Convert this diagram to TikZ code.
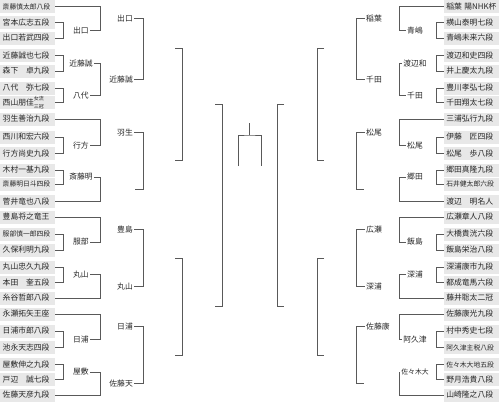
\documentclass[tikz,border=0pt]{standalone}
\usepackage{fontspec}
\setmainfont{Noto Sans CJK JP}
\newcommand{\nm}{\fontsize{7.8}{9}\selectfont}
\newcommand{\sm}{\fontsize{6.8}{8}\selectfont}
\newcommand{\twoline}[2]{\raisebox{-2.2pt}{\fontsize{5}{5}\selectfont\shortstack[l]{#1\\#2}}}

\begin{document}
\begin{tikzpicture}[
x=1pt, y=-1pt,
player/.style={
    fill=gray!18,
    text=black!85,
    minimum height=13pt,
    text width=50pt,
    inner xsep=2.5pt,
    inner ysep=0pt,
    align=left,
    font=\nm
},
lp/.style={player, anchor=west},
rp/.style={player, anchor=east},
small/.style={font=\sm},
win/.style={inner sep=1pt, text=black!85, font=\nm},
line/.style={draw=black!65, line width=0.9pt}
]
\useasboundingbox (0,0) rectangle (499,402);

% columns
\coordinate (c1) at (63,0);
\coordinate (c2) at (100,0);
\coordinate (c3) at (143,0);
\coordinate (c4) at (182,0);
\coordinate (c5) at (222,0);
\coordinate (d1) at (436,0);
\coordinate (d2) at (399,0);
\coordinate (d3) at (356,0);
\coordinate (d4) at (317,0);
\coordinate (d5) at (277,0);

% left players
\node[lp, small] (saito) at (0,6.5) {斎藤慎太郎八段};
\node[lp] (miyamoto) at (0,22.5) {宮本広志五段};
\node[lp] (deguchi) at (0,38) {出口若武四段};
\node[lp] (kondo) at (0,55.5) {近藤誠也七段};
\node[lp] (morishita) at (0,71) {森下　卓九段};
\node[lp] (yashiro) at (0,88) {八代　弥七段};
\node[lp] (nishiyama) at (0,102.5) {西山朋佳\twoline{女流}{三冠}};
\node[lp] (habu) at (0,119) {羽生善治九段};
\node[lp] (nishikawa) at (0,137) {西川和宏六段};
\node[lp] (namekata) at (0,153.5) {行方尚史九段};
\node[lp] (kimura) at (0,170) {木村一基九段};
\node[lp, small] (saitoa) at (0,184) {斎藤明日斗四段};
\node[lp] (sugai) at (0,201.5) {菅井竜也八段};
\node[lp] (toyoshima) at (0,217) {豊島将之竜王};
\node[lp, small] (hattori) at (0,234) {服部慎一郎四段};
\node[lp] (kubo) at (0,250) {久保利明九段};
\node[lp] (maruyama) at (0,267) {丸山忠久九段};
\node[lp] (honda) at (0,282.5) {本田　奎五段};
\node[lp] (itodani) at (0,298) {糸谷哲郎八段};
\node[lp] (nagase) at (0,314) {永瀬拓矢王座};
\node[lp] (hiura) at (0,331) {日浦市郎八段};
\node[lp] (ikenaga) at (0,347.5) {池永天志四段};
\node[lp] (yashiki) at (0,364.5) {屋敷伸之九段};
\node[lp] (tobe) at (0,379.5) {戸辺　誠七段};
\node[lp] (satoam) at (0,395) {佐藤天彦九段};

% right players
\node[rp] (inaba) at (499,6.5) {\mbox{稲葉\hspace{2.5pt}陽NHK杯}};
\node[rp] (yokoyama) at (499,22.5) {横山泰明七段};
\node[rp] (aoshima) at (499,38) {青嶋未来六段};
\node[rp] (watanabek) at (499,55.5) {渡辺和史四段};
\node[rp] (inoue) at (499,71) {井上慶太九段};
\node[rp] (toyokawa) at (499,88) {豊川孝弘七段};
\node[rp] (chida) at (499,102.5) {千田翔太七段};
\node[rp] (miura) at (499,119) {三浦弘行九段};
\node[rp] (ito) at (499,137) {伊藤　匠四段};
\node[rp] (matsuo) at (499,153.5) {松尾　歩八段};
\node[rp] (goda) at (499,170) {郷田真隆九段};
\node[rp, small] (ishii) at (499,184) {石井健太郎六段};
\node[rp] (watanabea) at (499,201.5) {渡辺　明名人};
\node[rp] (hirose) at (499,217) {広瀬章人八段};
\node[rp] (ohashi) at (499,234) {大橋貴洸六段};
\node[rp] (iijima) at (499,250) {飯島栄治八段};
\node[rp] (fukaura) at (499,267) {深浦康市九段};
\node[rp] (tonari) at (499,282.5) {都成竜馬六段};
\node[rp] (fujii) at (499,298) {藤井聡太二冠};
\node[rp] (satoy) at (499,314) {佐藤康光九段};
\node[rp] (muranaka) at (499,331) {村中秀史七段};
\node[rp, small] (akutsu) at (499,347.5) {阿久津主税八段};
\node[rp, small] (sasaki) at (499,364.5) {佐々木大地五段};
\node[rp] (nozuki) at (499,379.5) {野月浩貴八段};
\node[rp] (yamasaki) at (499,395) {山崎隆之八段};

% left winners
\node[win] (deguchi1) at (81,30.25) {出口};
\node[win] (kondo1) at (81,63.25) {近藤誠};
\node[win] (yashiro1) at (81,95.25) {八代};
\node[win] (namekata1) at (81,145.25) {行方};
\node[win] (saitoa1) at (81,177) {斎藤明};
\node[win] (hattori1) at (81,242) {服部};
\node[win] (maruyama1) at (81,274.75) {丸山};
\node[win] (hiura1) at (81,339.25) {日浦};
\node[win] (yashiki1) at (81,372) {屋敷};
\node[win, anchor=east] (deguchi2) at (134,18.4) {出口};
\node[win, anchor=east] (kondo2) at (134,79.25) {近藤誠};
\node[win, anchor=east] (habu2) at (134,132.1) {羽生};
\coordinate (sugai2) at (135,189.25);
\node[win, anchor=east] (toyoshima2) at (134,229.5) {豊島};
\node[win, anchor=east] (maruyama2) at (134,286.4) {丸山};
\node[win, anchor=east] (hiura2) at (134,326.6) {日浦};
\node[win, anchor=east] (satoam2) at (134,383.5) {佐藤天};

% right winners
\node[win] (aoshima1) at (415,30.25) {青嶋};
\node[win] (watanabek1) at (415,63.25) {渡辺和};
\node[win] (chida1) at (415,95.25) {千田};
\node[win] (matsuo1) at (415,145.25) {松尾};
\node[win] (goda1) at (415,177) {郷田};
\node[win] (iijima1) at (415,242) {飯島};
\node[win] (fukaura1) at (415,274.75) {深浦};
\node[win] (akutsu1) at (415,339.25) {阿久津};
\node[win, small] (sasaki1) at (415,372) {佐々木大};
\node[win, anchor=west] (inaba2) at (365,18.4) {稲葉};
\node[win, anchor=west] (chida2) at (365,79.25) {千田};
\node[win, anchor=west] (matsuo2) at (365,132.1) {松尾};
\coordinate (watanabea2) at (364,189.25);
\node[win, anchor=west] (hirose2) at (365,229.5) {広瀬};
\node[win, anchor=west] (fukaura2) at (365,286.4) {深浦};
\node[win, anchor=west] (satoy2) at (365,326.6) {佐藤康};
\coordinate (yamasaki2) at (364,383.5);

% later rounds
\coordinate (q1) at (175,48.8);
\coordinate (q2) at (175,160.7);
\coordinate (q3) at (175,257.95);
\coordinate (q4) at (175,355.05);
\coordinate (s1) at (215,104.75);
\coordinate (s2) at (215,306.5);
\coordinate (rq1) at (324,48.8);
\coordinate (rq2) at (324,160.7);
\coordinate (rq3) at (324,257.95);
\coordinate (rq4) at (324,355.05);
\coordinate (rs1) at (284,104.75);
\coordinate (rs2) at (284,306.5);
\coordinate (fl) at (238,166);
\coordinate (fr) at (261,166);
\coordinate (ftop) at (249.5,135);
\coordinate (fstem) at (249.5,123);

% left first round
\draw[line] (miyamoto.east) -| (c1 |- deguchi) -- (deguchi.east);
\draw[line] (kondo.east) -| (c1 |- morishita) -- (morishita.east);
\draw[line] (yashiro.east) -| (c1 |- nishiyama) -- (nishiyama.east);
\draw[line] (nishikawa.east) -| (c1 |- namekata) -- (namekata.east);
\draw[line] (kimura.east) -| (c1 |- saitoa) -- (saitoa.east);
\draw[line] (hattori.east) -| (c1 |- kubo) -- (kubo.east);
\draw[line] (maruyama.east) -| (c1 |- honda) -- (honda.east);
\draw[line] (hiura.east) -| (c1 |- ikenaga) -- (ikenaga.east);
\draw[line] (yashiki.east) -| (c1 |- tobe) -- (tobe.east);

% left second round
\draw[line] (saito.east) -| (c2 |- deguchi1) -- (deguchi1.east);
\draw[line] (kondo1.east) -| (c2 |- yashiro1) -- (yashiro1.east);
\draw[line] (habu.east) -| (c2 |- namekata1) -- (namekata1.east);
\draw[line] (saitoa1.east) -| (c2 |- sugai) -- (sugai.east);
\draw[line] (toyoshima.east) -| (c2 |- hattori1) -- (hattori1.east);
\draw[line] (maruyama1.east) -| (c2 |- itodani) -- (itodani.east);
\draw[line] (nagase.east) -| (c2 |- hiura1) -- (hiura1.east);
\draw[line] (yashiki1.east) -| (c2 |- satoam) -- (satoam.east);

% left third round and on
\draw[line] (deguchi2.east) -| (c3 |- kondo2) -- (kondo2.east);
\draw[line] (habu2.east) -| (c3 |- sugai2) -- (sugai2);
\draw[line] (toyoshima2.east) -| (c3 |- maruyama2) -- (maruyama2.east);
\draw[line] (hiura2.east) -| (c3 |- satoam2) -- (satoam2.east);
\draw[line] (q1) -| (c4 |- q2) -- (q2);
\draw[line] (q3) -| (c4 |- q4) -- (q4);
\draw[line] (s1) -| (c5 |- s2) -- (s2);

% right first round
\draw[line] (yokoyama.west) -| (d1 |- aoshima) -- (aoshima.west);
\draw[line] (watanabek.west) -| (d1 |- inoue) -- (inoue.west);
\draw[line] (toyokawa.west) -| (d1 |- chida) -- (chida.west);
\draw[line] (ito.west) -| (d1 |- matsuo) -- (matsuo.west);
\draw[line] (goda.west) -| (d1 |- ishii) -- (ishii.west);
\draw[line] (ohashi.west) -| (d1 |- iijima) -- (iijima.west);
\draw[line] (fukaura.west) -| (d1 |- tonari) -- (tonari.west);
\draw[line] (muranaka.west) -| (d1 |- akutsu) -- (akutsu.west);
\draw[line] (sasaki.west) -| (d1 |- nozuki) -- (nozuki.west);

% right second round
\draw[line] (inaba.west) -| (d2 |- aoshima1) -- (aoshima1.west);
\draw[line] (watanabek1.west) -| (d2 |- chida1) -- (chida1.west);
\draw[line] (miura.west) -| (d2 |- matsuo1) -- (matsuo1.west);
\draw[line] (goda1.west) -| (d2 |- watanabea) -- (watanabea.west);
\draw[line] (hirose.west) -| (d2 |- iijima1) -- (iijima1.west);
\draw[line] (fukaura1.west) -| (d2 |- fujii) -- (fujii.west);
\draw[line] (satoy.west) -| (d2 |- akutsu1) -- (akutsu1.west);
\draw[line] (sasaki1.west) -| (d2 |- yamasaki) -- (yamasaki.west);

% right third round and on
\draw[line] (inaba2.west) -| (d3 |- chida2) -- (chida2.west);
\draw[line] (matsuo2.west) -| (d3 |- watanabea2) -- (watanabea2);
\draw[line] (hirose2.west) -| (d3 |- fukaura2) -- (fukaura2.west);
\draw[line] (satoy2.west) -| (d3 |- yamasaki2) -- (yamasaki2);
\draw[line] (rq1) -| (d4 |- rq2) -- (rq2);
\draw[line] (rq3) -| (d4 |- rq4) -- (rq4);
\draw[line] (rs1) -| (d5 |- rs2) -- (rs2);

% final
\draw[line] (fl) |- (ftop) -| (fr);
\draw[line] (ftop) -- (fstem);

\end{tikzpicture}
\end{document}
